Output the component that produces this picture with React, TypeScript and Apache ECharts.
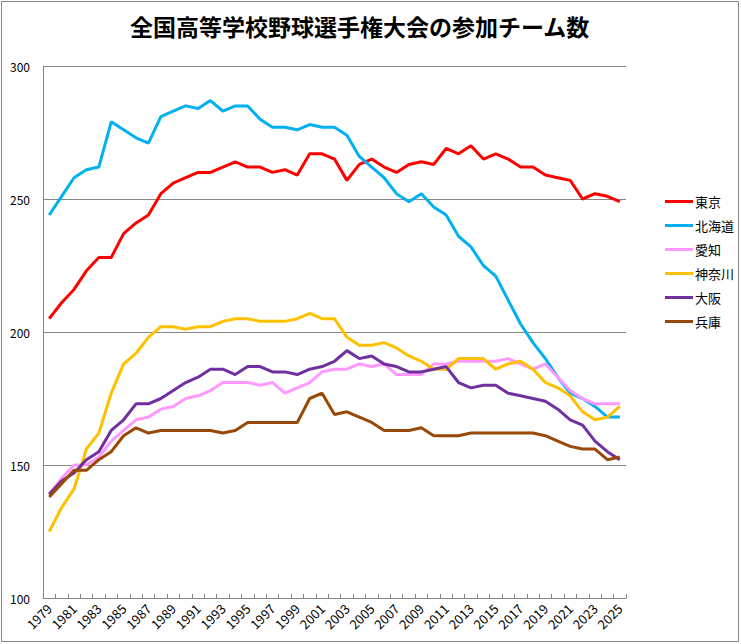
import { useEffect, useRef } from "react";
import * as echarts from "echarts";

const years = Array.from({ length: 47 }, (_, i) => String(1979 + i));

const tokyo = [205, 211, 216, 223, 228, 228, 237, 241, 244, 252, 256, 258, 260, 260, 262, 264, 262, 262, 260, 261, 259, 267, 267, 265, 257, 263, 265, 262, 260, 263, 264, 263, 269, 267, 270, 265, 267, 265, 262, 262, 259, 258, 257, 250, 252, 251, 249];
const hokkaido = [244, 251, 258, 261, 262, 279, 276, 273, 271, 281, 283, 285, 284, 287, 283, 285, 285, 280, 277, 277, 276, 278, 277, 277, 274, 266, 262, 258, 252, 249, 252, 247, 244, 236, 232, 225, 221, 212, 203, 196, 190, 183, 177, 175, 172, 168, 168];
const aichi = [139, 145, 150, 150, 153, 159, 163, 167, 168, 171, 172, 175, 176, 178, 181, 181, 181, 180, 181, 177, 179, 181, 185, 186, 186, 188, 187, 188, 184, 184, 184, 188, 188, 189, 189, 189, 189, 190, 188, 186, 188, 183, 178, 175, 173, 173, 173];
const kanagawa = [125, 134, 141, 156, 162, 177, 188, 192, 198, 202, 202, 201, 202, 202, 204, 205, 205, 204, 204, 204, 205, 207, 205, 205, 198, 195, 195, 196, 194, 191, 189, 186, 186, 190, 190, 190, 186, 188, 189, 186, 181, 179, 176, 170, 167, 168, 172];
const osaka = [139, 144, 147, 152, 155, 163, 167, 173, 173, 175, 178, 181, 183, 186, 186, 184, 187, 187, 185, 185, 184, 186, 187, 189, 193, 190, 191, 188, 187, 185, 185, 186, 187, 181, 179, 180, 180, 177, 176, 175, 174, 171, 167, 165, 159, 155, 152];
const hyogo = [138, 143, 148, 148, 152, 155, 161, 164, 162, 163, 163, 163, 163, 163, 162, 163, 166, 166, 166, 166, 166, 175, 177, 169, 170, 168, 166, 163, 163, 163, 164, 161, 161, 161, 162, 162, 162, 162, 162, 162, 161, 159, 157, 156, 156, 152, 153];

const seriesList: Array<[string, number[], string]> = [
  ["東京", tokyo, "#ff0000"],
  ["北海道", hokkaido, "#00b0f0"],
  ["愛知", aichi, "#ff99ff"],
  ["神奈川", kanagawa, "#ffc000"],
  ["大阪", osaka, "#7030a0"],
  ["兵庫", hyogo, "#984807"],
];

const FONT = "'Noto Sans CJK JP', sans-serif";

export default function App() {
  const ref = useRef<HTMLDivElement | null>(null);

  useEffect(() => {
    if (!ref.current) return;
    const chart = echarts.init(ref.current, undefined, { renderer: "svg" });

    chart.setOption({
      animation: false,
      backgroundColor: "#ffffff",
      textStyle: { fontFamily: FONT },
      title: {
        text: "全国高等学校野球選手権大会の参加チーム数",
        left: 125,
        top: 9,
        textStyle: { fontFamily: FONT, fontSize: 23, fontWeight: "bold", color: "#000" },
      },
      graphic: [
        {
          type: "rect",
          shape: { x: 1.5, y: 1.5, width: 737, height: 640 },
          style: { fill: "none", stroke: "#868686", lineWidth: 1 },
          silent: true,
        },
      ],
      legend: {
        orient: "vertical",
        left: 660,
        top: 190,
        icon: "rect",
        itemWidth: 28,
        itemHeight: 3,
        itemGap: 11,
        textStyle: { fontFamily: FONT, fontSize: 13, color: "#000", padding: [0, 0, 0, -3] },
        data: seriesList.map((s) => s[0]),
      },
      grid: { left: 43, right: 115, top: 66, bottom: 46 },
      xAxis: {
        type: "category",
        data: years,
        boundaryGap: true,
        axisLine: { lineStyle: { color: "#868686" } },
        axisTick: { show: true, inside: true, length: 4, interval: 0, lineStyle: { color: "#868686" } },
        axisLabel: { interval: 1, rotate: 45, fontSize: 13, color: "#000", margin: 8, fontFamily: FONT },
      },
      yAxis: {
        type: "value",
        min: 100,
        max: 300,
        interval: 50,
        axisLine: { show: true, lineStyle: { color: "#868686" } },
        axisTick: { show: false },
        splitLine: { lineStyle: { color: "#868686" } },
        axisLabel: { fontSize: 12, color: "#000", margin: 13, fontFamily: FONT },
      },
      series: seriesList.map(([name, data, color]) => ({
        name,
        type: "line",
        data,
        symbol: "none",
        color,
        lineStyle: { width: 3, color },
      })),
    });

    return () => chart.dispose();
  }, []);

  return <div ref={ref} style={{ position: "fixed", left: 0, top: 0, width: 741, height: 644 }} />;
}
